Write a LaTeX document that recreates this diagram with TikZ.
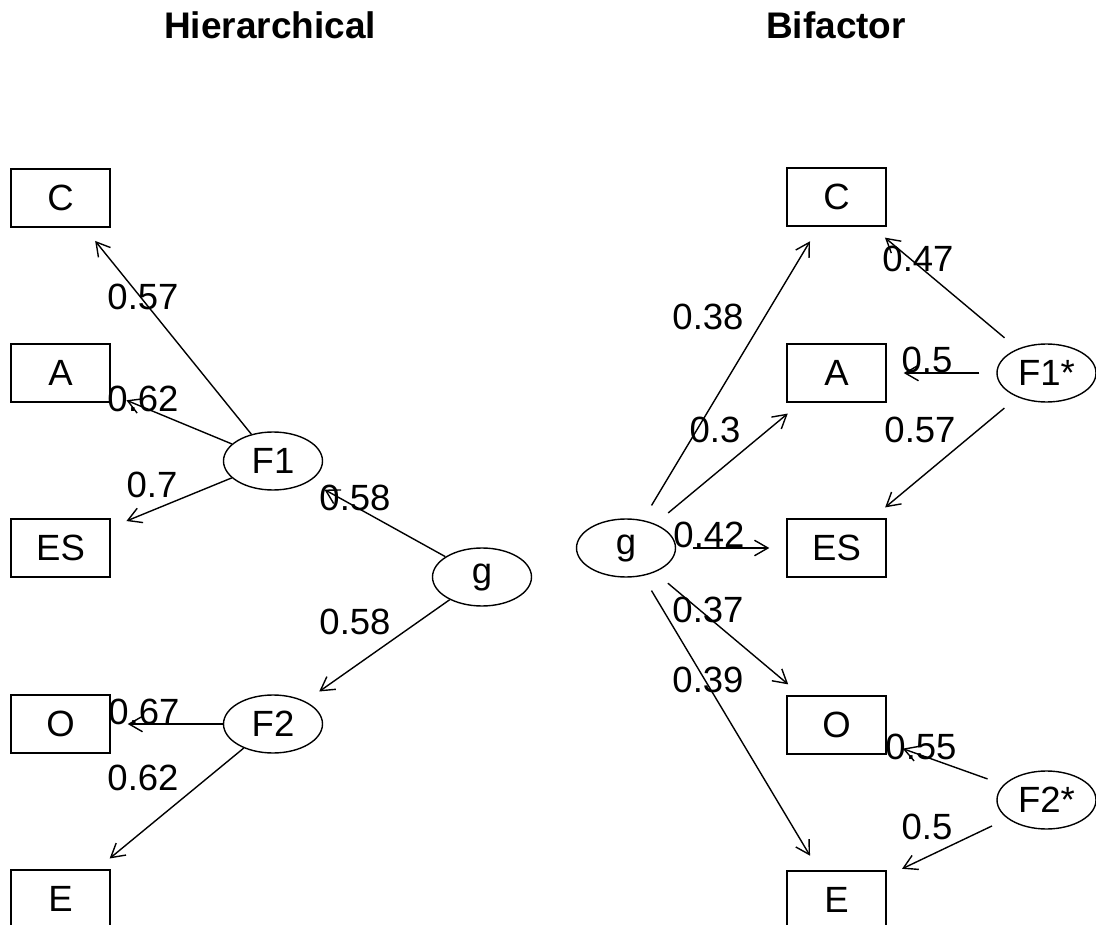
\documentclass[tikz,border=0pt]{standalone}
\usepackage{fontspec}
\setmainfont{Liberation Sans}
\usetikzlibrary{arrows.meta,shapes.geometric}
\newcommand{\labfont}{\fontsize{36.5}{40}\selectfont}
\newcommand{\ttlfont}{\fontsize{37}{40}\selectfont\bfseries}
\tikzset{
  obsbox/.style={draw, line width=1.4pt, minimum width=99pt, minimum height=58pt, inner sep=0pt, font=\labfont},
  latent/.style={draw, ellipse, line width=1.4pt, minimum width=99pt, minimum height=58pt, inner sep=0pt, font=\labfont},
  lbl/.style={inner sep=0pt, font=\labfont},
  ttl/.style={inner sep=0pt, font=\ttlfont, anchor=base},
  arr/.style={-{Straight Barb[angle=60:15.5pt]}, line width=1.4pt, shorten >=17pt},
  arrb/.style={arr, shorten <=17pt}
}
\begin{document}
\begin{tikzpicture}[x=1pt,y=-1pt]
\clip (0,0) rectangle (1096,925);
\fill[white] (0,0) rectangle (1096,925);
% titles
\node[ttl] (t1) at (270,39) {Hierarchical};
\node[ttl] (t2) at (836,39) {Bifactor};
% left panel
\node[obsbox] (LC) at (60.5,198) {C};
\node[obsbox] (LA) at (60.5,373) {A};
\node[obsbox] (LES) at (60.5,548) {ES};
\node[obsbox] (LO) at (60.5,724) {O};
\node[obsbox] (LE) at (60.5,899) {E};
\node[latent] (F1) at (273,461) {F1};
\node[latent] (F2) at (273,724) {F2};
\node[latent] (Lg) at (482,577) {g};
\draw[arr] (F1) -- (LC);
\draw[arr] (F1) -- (LA);
\draw[arr] (F1) -- (LES);
\draw[arr] (F2) -- (LO);
\draw[arr] (F2) -- (LE);
\draw[arr] (Lg) -- (F1);
\draw[arr] (Lg) -- (F2);
\node[lbl] (l1) at (143,297) {0.57};
\node[lbl] (l2) at (143,399) {0.62};
\node[lbl] (l3) at (152,485) {0.7};
\node[lbl] (l4) at (355,498) {0.58};
\node[lbl] (l5) at (355,622) {0.58};
\node[lbl] (l6) at (144,712) {0.67};
\node[lbl] (l7) at (143,778) {0.62};
% right panel
\node[obsbox] (RC) at (836.5,197) {C};
\node[obsbox] (RA) at (836.5,373) {A};
\node[obsbox] (RES) at (836.5,548) {ES};
\node[obsbox] (RO) at (836.5,725) {O};
\node[obsbox] (RE) at (836.5,900) {E};
\node[latent] (Rg) at (626,548) {g};
\node[latent] (F1s) at (1046.5,373) {F1*};
\node[latent] (F2s) at (1046.5,800) {F2*};
\draw[arrb] (Rg) -- (RC);
\draw[arrb] (Rg) -- (RA);
\draw[arrb] (Rg) -- (RES);
\draw[arrb] (Rg) -- (RO);
\draw[arrb] (Rg) -- (RE);
\draw[arrb] (F1s) -- (RC);
\draw[arrb] (F1s) -- (RA);
\draw[arrb] (F1s) -- (RES);
\draw[arrb] (F2s) -- (RO);
\draw[arrb] (F2s) -- (RE);
\node[lbl] (r1) at (708,317) {0.38};
\node[lbl] (r2) at (715,430) {0.3};
\node[lbl] (r3) at (709,535) {0.42};
\node[lbl] (r4) at (708,610) {0.37};
\node[lbl] (r5) at (708,680) {0.39};
\node[lbl] (r6) at (918,259) {0.47};
\node[lbl] (r7) at (927,360) {0.5};
\node[lbl] (r8) at (920,430) {0.57};
\node[lbl] (r9) at (921,747) {0.55};
\node[lbl] (r10) at (927,827) {0.5};
\end{tikzpicture}
\end{document}
